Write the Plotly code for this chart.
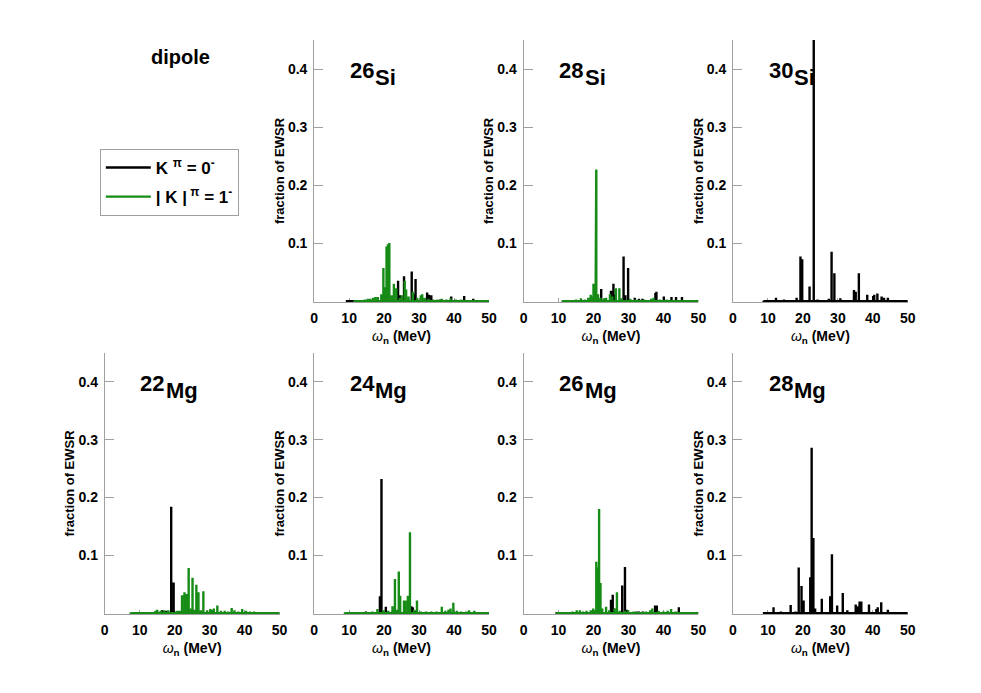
import plotly.graph_objects as go

# Stick spectra: energies (MeV) and fraction of EWSR
# K^pi = 0^- (black) and |K|^pi = 1^- (green) for each nucleus

SI26_K0_E = [9.4, 24.0, 24.6, 25.7, 27.9, 28.4, 29.0, 32.3, 32.8, 33.5, 36.0, 39.2, 42.9, 45.5]
SI26_K0_H = [0.002, 0.035, 0.010, 0.043, 0.051, 0.012, 0.038, 0.015, 0.011, 0.010, 0.003, 0.008, 0.009, 0.004]
SI26_K1_E = [11.5, 13.0, 14.5, 15.3, 16.0, 16.8, 17.5, 18.2, 19.2, 19.8, 20.2, 20.7, 21.1, 21.5, 22.2,
             22.8, 23.5, 24.5, 25.1, 25.9, 26.3, 27.0, 28.2, 29.5, 30.5, 30.9, 31.6, 32.7, 34.0, 35.2,
             36.5, 37.8, 39.0, 40.5, 42.0, 44.0, 46.5, 48.5]
SI26_K1_H = [0.001, 0.002, 0.003, 0.004, 0.004, 0.006, 0.007, 0.007, 0.012, 0.057, 0.024, 0.094, 0.098, 0.100, 0.010,
             0.030, 0.022, 0.006, 0.010, 0.035, 0.020, 0.008, 0.016, 0.006, 0.010, 0.012, 0.006, 0.004, 0.003, 0.003,
             0.004, 0.003, 0.005, 0.003, 0.003, 0.002, 0.002, 0.001]

SI28_K0_E = [11.3, 22.2, 25.0, 25.7, 26.2, 28.6, 29.1, 29.9, 31.8, 33.0, 34.0, 37.7, 38.0, 40.1, 42.3, 43.6, 45.3]
SI28_K0_H = [0.001, 0.021, 0.018, 0.030, 0.012, 0.077, 0.010, 0.057, 0.006, 0.004, 0.004, 0.014, 0.016, 0.008, 0.007, 0.007, 0.007]
SI28_K1_E = [11.2, 13.5, 15.0, 16.4, 17.5, 18.5, 19.2, 19.7, 20.0, 20.3, 20.6, 20.8, 21.3, 22.0, 23.0,
             23.6, 24.7, 25.4, 26.4, 27.4, 28.0, 30.5, 32.0, 34.5, 36.5, 37.2, 39.0, 41.0, 44.0, 47.0]
SI28_K1_H = [0.001, 0.002, 0.003, 0.005, 0.003, 0.006, 0.011, 0.008, 0.030, 0.025, 0.147, 0.227, 0.012, 0.006, 0.005,
             0.006, 0.012, 0.008, 0.022, 0.022, 0.005, 0.004, 0.003, 0.003, 0.004, 0.006, 0.003, 0.003, 0.002, 0.002]

SI30_K0_E = [8.8, 10.1, 12.3, 14.6, 16.7, 18.2, 19.3, 19.8, 21.9, 23.1, 24.2, 27.4, 28.2, 29.0, 30.7, 32.1,
             34.6, 35.1, 36.0, 38.4, 40.1, 40.4, 41.3, 42.5, 43.2, 44.3]
SI30_K0_H = [0.001, 0.001, 0.006, 0.003, 0.002, 0.006, 0.077, 0.072, 0.025, 0.470, 0.003, 0.004, 0.085, 0.048, 0.005, 0.002,
             0.019, 0.016, 0.048, 0.011, 0.009, 0.011, 0.013, 0.008, 0.006, 0.006]

MG22_K0_E = [12.6, 15.0, 16.4, 17.6, 19.0, 19.7, 20.5]
MG22_K0_H = [0.002, 0.003, 0.005, 0.004, 0.184, 0.053, 0.003]
MG22_K1_E = [7.4, 9.5, 11.5, 13.5, 14.5, 15.0, 16.0, 17.0, 18.2, 20.8, 21.4, 22.1, 22.8, 23.4, 24.0, 24.6,
             25.1, 25.6, 26.2, 26.8, 27.5, 28.2, 29.3, 30.2, 30.7, 31.2, 32.2, 33.2, 34.3, 35.3, 36.3, 37.1,
             38.2, 39.3, 40.4, 41.5, 42.7, 44.6, 47.0]
MG22_K1_H = [0.001, 0.001, 0.002, 0.002, 0.004, 0.006, 0.004, 0.005, 0.005, 0.004, 0.004, 0.031, 0.036, 0.033, 0.078, 0.008,
             0.061, 0.006, 0.049, 0.036, 0.005, 0.038, 0.005, 0.007, 0.006, 0.008, 0.013, 0.004, 0.004, 0.003, 0.009, 0.005,
             0.003, 0.007, 0.004, 0.003, 0.003, 0.002, 0.001]

MG24_K0_E = [9.0, 12.0, 13.4, 14.8, 18.8, 19.25, 20.5, 22.4, 27.8, 28.2, 29.0]
MG24_K0_H = [0.001, 0.001, 0.002, 0.003, 0.029, 0.232, 0.011, 0.003, 0.012, 0.010, 0.004]
MG24_K1_E = [8.8, 16.7, 18.1, 19.8, 21.2, 22.4, 23.1, 23.6, 24.2, 24.6, 25.7, 26.1, 26.8, 27.4, 28.6, 29.4,
             30.5, 32.0, 33.5, 35.0, 36.5, 37.5, 38.4, 39.0, 39.8, 40.8, 42.0, 43.5, 44.3, 45.8, 48.0]
MG24_K1_H = [0.001, 0.003, 0.007, 0.005, 0.004, 0.012, 0.059, 0.006, 0.072, 0.030, 0.022, 0.022, 0.030, 0.140, 0.006, 0.022,
             0.003, 0.003, 0.003, 0.003, 0.011, 0.004, 0.006, 0.008, 0.018, 0.004, 0.003, 0.003, 0.005, 0.004, 0.001]

MG26_K0_E = [9.5, 25.0, 25.5, 25.9, 28.2, 29.0, 29.5, 32.3, 33.0, 34.1, 37.6, 38.1, 44.4]
MG26_K0_H = [0.002, 0.023, 0.032, 0.008, 0.048, 0.080, 0.006, 0.003, 0.003, 0.003, 0.013, 0.013, 0.010]
MG26_K1_E = [9.5, 11.2, 12.5, 14.0, 15.2, 16.1, 17.0, 18.0, 19.2, 19.9, 20.4, 20.8, 21.2, 21.6, 22.0, 22.5,
             23.6, 24.5, 26.0, 26.7, 27.5, 29.0, 29.9, 31.5, 33.0, 35.0, 36.2, 36.8, 38.6, 40.0, 41.2, 42.2,
             43.5, 46.0, 48.0]
MG26_K1_H = [0.001, 0.001, 0.002, 0.003, 0.005, 0.005, 0.003, 0.004, 0.005, 0.008, 0.005, 0.089, 0.079, 0.180, 0.052, 0.008,
             0.011, 0.005, 0.008, 0.036, 0.004, 0.004, 0.005, 0.003, 0.002, 0.003, 0.005, 0.008, 0.004, 0.003, 0.004, 0.007,
             0.003, 0.002, 0.001]

MG28_K0_E = [8.9, 10.1, 11.6, 13.7, 16.5, 17.9, 18.8, 19.6, 20.2, 22.1, 22.5, 23.0, 23.5, 25.4, 27.8, 28.3,
             29.8, 31.4, 32.7, 35.1, 35.6, 36.2, 36.7, 38.9, 41.0, 41.4, 42.4, 44.3]
MG28_K0_H = [0.002, 0.002, 0.010, 0.003, 0.014, 0.003, 0.079, 0.047, 0.022, 0.062, 0.286, 0.130, 0.008, 0.025, 0.029, 0.102,
             0.013, 0.035, 0.005, 0.015, 0.012, 0.020, 0.020, 0.015, 0.007, 0.010, 0.019, 0.006]

# panel order: (row, col, mass, element, K0 data, K1 data, show y title)
panels = [
    (1, 2, '26', 'Si', (SI26_K0_E, SI26_K0_H), (SI26_K1_E, SI26_K1_H), True),
    (1, 3, '28', 'Si', (SI28_K0_E, SI28_K0_H), (SI28_K1_E, SI28_K1_H), True),
    (1, 4, '30', 'Si', (SI30_K0_E, SI30_K0_H), None, True),
    (2, 1, '22', 'Mg', (MG22_K0_E, MG22_K0_H), (MG22_K1_E, MG22_K1_H), True),
    (2, 2, '24', 'Mg', (MG24_K0_E, MG24_K0_H), (MG24_K1_E, MG24_K1_H), True),
    (2, 3, '26', 'Mg', (MG26_K0_E, MG26_K0_H), (MG26_K1_E, MG26_K1_H), False),
    (2, 4, '28', 'Mg', (MG28_K0_E, MG28_K0_H), None, True),
]

X_TICKS = [0, 10, 20, 30, 40, 50]
Y_TICKS = [0.1, 0.2, 0.3, 0.4]
X_MAX = 50

colors = {
    'k0': 'black',
    'k1': '#168c16',
    'axis': '#a0a0a0',
}

W, H = 981, 693
# pixel boxes of the subplots
col_px = {1: (102, 279), 2: (314, 491), 3: (526, 703), 4: (738, 915)}
row_px = {1: (40, 302), 2: (353, 614)}

FONT = 'Liberation Sans'
LINE_W = 2.4


def sticks(energies, heights):
    # Turn (energy, height) pairs into a continuous stick line
    xs, ys = [], []
    for e, h in sorted(zip(energies, heights)):
        xs += [e, e, e]
        ys += [0, h, 0]
    xs.append(X_MAX)
    ys.append(0)
    return xs, ys


fig = go.Figure()
layout = {}

for i, (row, col, mass, elem, k0, k1, ytitle) in enumerate(panels):
    n = i + 1
    xa = 'x' if n == 1 else f'x{n}'
    ya = 'y' if n == 1 else f'y{n}'
    xkey = 'xaxis' if n == 1 else f'xaxis{n}'
    ykey = 'yaxis' if n == 1 else f'yaxis{n}'

    x0, x1 = col_px[col]
    y0, y1 = row_px[row]

    xs, ys = sticks(*k0)
    fig.add_trace(go.Scatter(
        x=xs, y=ys, xaxis=xa, yaxis=ya, mode='lines',
        line={'color': colors['k0'], 'width': LINE_W},
        name='K <sup>π</sup> = 0<sup>-</sup>', legendgroup='k0',
        showlegend=(n == 1), hoverinfo='skip',
    ))
    if k1 is not None:
        xs, ys = sticks(*k1)
        fig.add_trace(go.Scatter(
            x=xs, y=ys, xaxis=xa, yaxis=ya, mode='lines',
            line={'color': colors['k1'], 'width': LINE_W},
            name='| K |<sup> π</sup> = 1<sup>-</sup>', legendgroup='k1',
            showlegend=(n == 1), hoverinfo='skip',
        ))

    layout[xkey] = dict(
        domain=[x0 / W, x1 / W], anchor=ya, range=[0, X_MAX],
        tickvals=X_TICKS, ticks='inside', ticklen=4, tickcolor=colors['axis'],
        showline=True, linecolor=colors['axis'], linewidth=1, layer='below traces',
        showgrid=False, zeroline=False, ticklabelstandoff=3,
        tickfont={'family': FONT, 'size': 14, 'color': 'black', 'weight': 'bold'},
        title={'text': '<i>ω</i><sub><b>n</b></sub> <b>(MeV)</b>', 'standoff': 6,
               'font': {'family': FONT, 'size': 14, 'color': 'black'}},
    )
    layout[ykey] = dict(
        domain=[1 - y1 / H, 1 - y0 / H], anchor=xa, range=[-0.0015, 0.45],
        tickvals=Y_TICKS, ticktext=[f'{v:.1f}' for v in Y_TICKS],
        ticks='inside', ticklen=9, tickcolor=colors['axis'],
        showline=True, linecolor=colors['axis'], linewidth=1, layer='below traces',
        showgrid=False, zeroline=False, ticklabelstandoff=3,
        tickfont={'family': FONT, 'size': 14, 'color': 'black', 'weight': 'bold'},
        title={'text': 'fraction of EWSR' if ytitle else '', 'standoff': 0,
               'font': {'family': FONT, 'size': 13, 'color': 'black', 'weight': 'bold'}},
    )

    # nucleus label: mass number, then element lowered
    fig.add_annotation(
        x=9.9, y=0.398, xref=xa, yref=ya, text=mass, showarrow=False,
        xanchor='left', yanchor='middle', borderpad=0,
        font={'family': FONT, 'size': 22, 'color': 'black', 'weight': 'bold'},
    )
    fig.add_annotation(
        x=17.2, y=0.386, xref=xa, yref=ya, text=elem, showarrow=False,
        xanchor='left', yanchor='middle', borderpad=0,
        font={'family': FONT, 'size': 22, 'color': 'black', 'weight': 'bold'},
    )

fig.add_annotation(
    x=179 / W, y=1 - 57 / H, xref='paper', yref='paper', text='dipole',
    showarrow=False, xanchor='center', yanchor='middle',
    font={'family': FONT, 'size': 20, 'color': 'black', 'weight': 'bold'},
)

fig.update_layout(
    **layout,
    width=W, height=H,
    margin={'l': 0, 'r': 0, 't': 0, 'b': 0},
    paper_bgcolor='white', plot_bgcolor='white',
    legend={
        'x': 97 / W, 'y': 1 - 149 / H, 'xanchor': 'left', 'yanchor': 'top',
        'bordercolor': colors['axis'], 'borderwidth': 1, 'bgcolor': 'white',
        'font': {'family': FONT, 'size': 17, 'color': 'black', 'weight': 'bold'},
        'tracegroupgap': 4, 'itemwidth': 45,
    },
)

if __name__ == '__main__':
    # drop the default page margin so the figure sits at the window corner
    fig.write_html('out.html', config={'displayModeBar': False},
                   post_script="document.body.style.margin='0';")
